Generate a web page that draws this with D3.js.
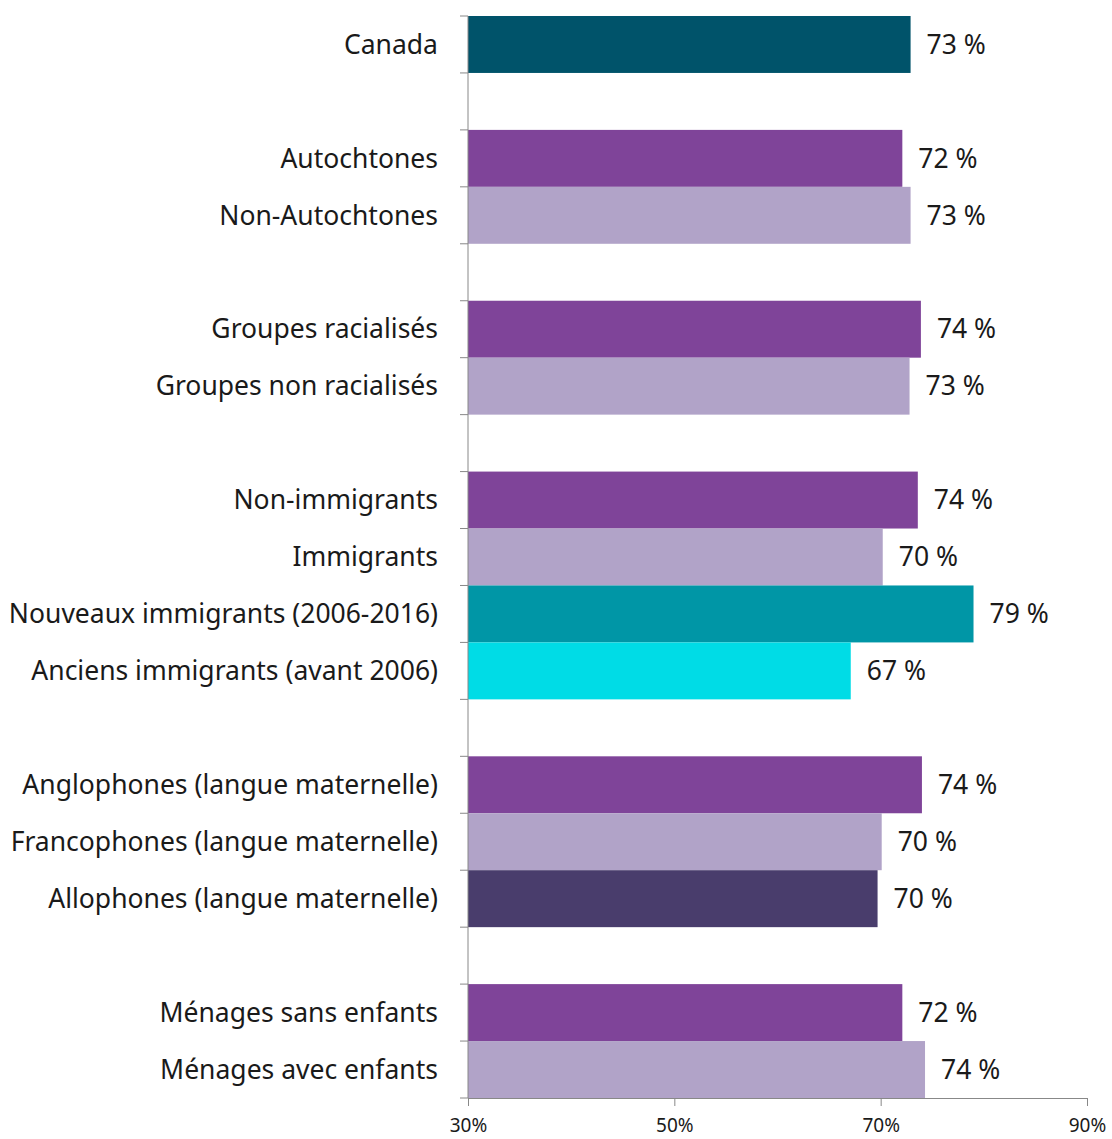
<!DOCTYPE html>
<html>
<head>
<meta charset="utf-8">
<script src="https://cdn.jsdelivr.net/npm/d3@7"></script>
<style>
  body { margin: 0; background: #fff; }
  .lbl { font-family: "Noto Sans", "Open Sans", sans-serif; fill: #1a1a1a; }
  .axis path, .axis line { stroke: #888; }
  .axis text { font-family: "Noto Sans", "Open Sans", sans-serif; font-size: 19px; fill: #1a1a1a; }
</style>
</head>
<body>
<div class="chartWrapper"></div>
<script>
// rows, blank rows keep the group gaps
var categories = ['Canada', '', 'Autochtones', 'Non-Autochtones', '', 'Groupes racialisés', 'Groupes non racialisés', '',
  'Non-immigrants', 'Immigrants', 'Nouveaux immigrants (2006-2016)', 'Anciens immigrants (avant 2006)', '',
  'Anglophones (langue maternelle)', 'Francophones (langue maternelle)', 'Allophones (langue maternelle)', '',
  'Ménages sans enfants', 'Ménages avec enfants'];
var values = [72.9, null, 72.1, 72.9, null, 73.9, 72.8, null,
  73.6, 70.2, 79.0, 67.1, null,
  74.0, 70.1, 69.7, null,
  72.1, 74.3];
var valueLabels = ['73 %', '', '72 %', '73 %', '', '74 %', '73 %', '',
  '74 %', '70 %', '79 %', '67 %', '',
  '74 %', '70 %', '70 %', '',
  '72 %', '74 %'];
var barColors = ['#00536a', null, '#7f4499', '#b1a3c8', null, '#7f4499', '#b1a3c8', null,
  '#7f4499', '#b1a3c8', '#0096a6', '#00dce6', null,
  '#7f4499', '#b1a3c8', '#493d6c', null,
  '#7f4499', '#b1a3c8'];
var xTicks = [30, 50, 70, 90];

var width = 1112, height = 1139;
var padding = { top: 16, right: 25, bottom: 41, left: 468 };

var svg = d3.select('.chartWrapper').append('svg')
  .attr('width', width)
  .attr('height', height);

var rows = categories.map(function (c, i) { return i; });

var xScale = d3.scaleLinear()
  .domain([30, 90])
  .range([padding.left, width - padding.right]);

var yScale = d3.scaleBand()
  .domain(rows)
  .range([padding.top, height - padding.bottom])
  .paddingInner(0)
  .paddingOuter(0);

var data = rows.filter(function (i) { return values[i] != null; });

// bars
svg.append('g').selectAll('rect')
  .data(data)
  .enter()
  .append('rect')
  .attr('x', xScale(30))
  .attr('y', function (i) { return yScale(i); })
  .attr('width', function (i) { return xScale(values[i]) - xScale(30); })
  .attr('height', yScale.bandwidth())
  .attr('fill', function (i) { return barColors[i]; });

// value labels
svg.append('g').selectAll('text')
  .data(data)
  .enter()
  .append('text')
  .attr('class', 'lbl')
  .attr('font-size', '26.5px')
  .attr('x', function (i) { return xScale(values[i]) + 16; })
  .attr('y', function (i) { return yScale(i) + yScale.bandwidth() / 2; })
  .attr('dy', '0.35em')
  .text(function (i) { return valueLabels[i]; });

// x axis
svg.append('g')
  .attr('class', 'axis xAxis')
  .attr('transform', 'translate(0,' + (height - padding.bottom) + ')')
  .call(d3.axisBottom(xScale).tickValues(xTicks).tickSize(8).tickSizeOuter(0)
    .tickFormat(function (d) { return d + '%'; }))
  .selectAll('text')
  .attr('dy', '1.2em');

// y axis: ticks on band edges
var yEdges = rows.map(function (i) { return yScale(i); }).concat([height - padding.bottom]);
var yAxis = svg.append('g').attr('class', 'axis yAxis');
yAxis.append('line')
  .attr('x1', padding.left).attr('x2', padding.left)
  .attr('y1', padding.top).attr('y2', height - padding.bottom);
yAxis.selectAll('line.tick')
  .data(yEdges)
  .enter()
  .append('line')
  .attr('class', 'tick')
  .attr('x1', padding.left - 8).attr('x2', padding.left)
  .attr('y1', function (d) { return d; }).attr('y2', function (d) { return d; });

// category labels
svg.append('g').selectAll('text')
  .data(rows.filter(function (i) { return categories[i] !== ''; }))
  .enter()
  .append('text')
  .attr('class', 'lbl')
  .attr('font-size', '26.5px')
  .attr('text-anchor', 'end')
  .attr('x', padding.left - 30)
  .attr('y', function (i) { return yScale(i) + yScale.bandwidth() / 2; })
  .attr('dy', '0.35em')
  .text(function (i) { return categories[i]; });
</script>
</body>
</html>
